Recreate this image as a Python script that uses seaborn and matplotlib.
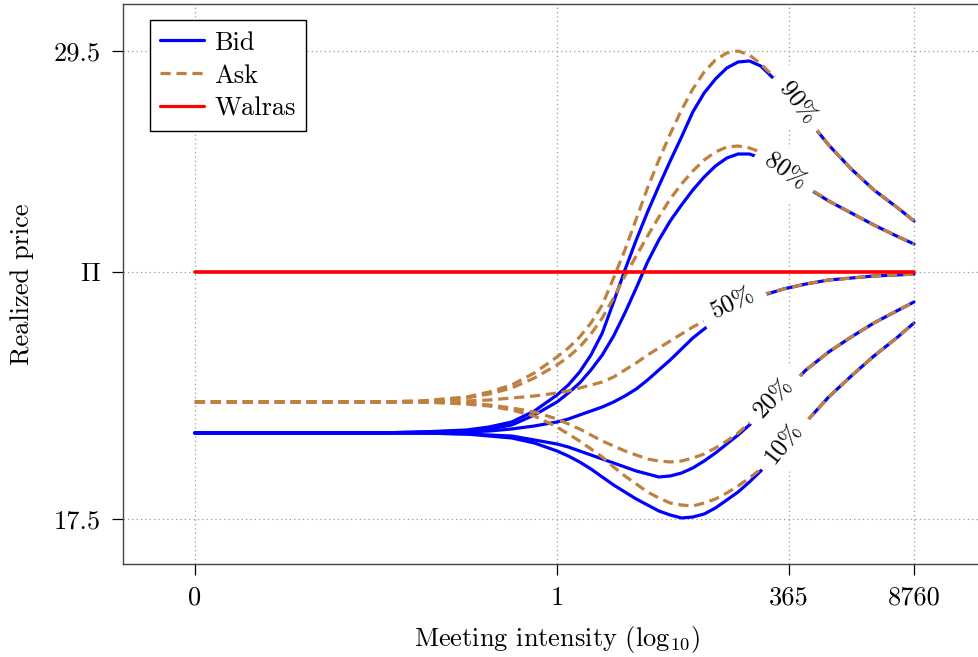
import numpy as np
import pandas as pd
import matplotlib
matplotlib.use("Agg")
import matplotlib.pyplot as plt
from matplotlib.lines import Line2D
import seaborn as sns

# Meeting intensity on a log10 axis; the left end (-4) stands for zero intensity
log_intensity = [-4, -3, -2, -1.5, -1, -0.75, -0.5, -0.25, 0, 0.125, 0.25, 0.375, 0.5,
                 0.625, 0.75, 0.875, 1, 1.125, 1.25, 1.375, 1.5, 1.625, 1.75, 1.875, 2,
                 2.125, 2.25, 2.5, 2.75, 3, 3.25, 3.5, 3.75, 3.9425]

tick_positions = [-4, 0, np.log10(365), np.log10(8760)]
tick_labels = ["0", "1", "365", "8760"]

walras_price = 23.83
price_ticks = [17.5, walras_price, 29.5]
price_tick_labels = ["17.5", r"$\Pi$", "29.5"]

levels = ["90%", "80%", "50%", "20%", "10%"]

bid_90 = [19.705, 19.705, 19.705, 19.731, 19.782, 19.859, 19.987, 20.269, 20.679, 20.936,
          21.269, 21.705, 22.269, 23.064, 23.885, 24.654, 25.372, 26.038, 26.679, 27.295,
          27.936, 28.423, 28.782, 29.064, 29.218, 29.244, 29.115, 28.551, 27.808, 27.090,
          26.474, 25.936, 25.500, 25.141]
ask_90 = [20.500, 20.500, 20.500, 20.526, 20.628, 20.756, 20.936, 21.244, 21.654, 21.885,
          22.167, 22.526, 22.987, 23.679, 24.397, 25.192, 25.987, 26.705, 27.372, 27.987,
          28.526, 28.962, 29.269, 29.449, 29.500, 29.397, 29.167, 28.603, 27.833, 27.090,
          26.474, 25.936, 25.500, 25.141]

bid_80 = [19.705, 19.705, 19.705, 19.731, 19.756, 19.808, 19.910, 20.167, 20.500, 20.731,
          20.987, 21.321, 21.705, 22.192, 22.782, 23.423, 24.090, 24.654, 25.141, 25.551,
          25.936, 26.269, 26.551, 26.756, 26.859, 26.859, 26.756, 26.372, 26.013, 25.654,
          25.346, 25.038, 24.756, 24.551]
ask_80 = [20.500, 20.500, 20.500, 20.526, 20.603, 20.705, 20.859, 21.115, 21.449, 21.654,
          21.910, 22.244, 22.654, 23.167, 23.731, 24.244, 24.756, 25.244, 25.705, 26.090,
          26.423, 26.705, 26.910, 27.038, 27.064, 27.013, 26.910, 26.397, 26.038, 25.654,
          25.346, 25.038, 24.756, 24.551]

bid_50 = [19.705, 19.705, 19.705, 19.705, 19.731, 19.756, 19.808, 19.885, 19.987, 20.064,
          20.167, 20.269, 20.372, 20.500, 20.654, 20.833, 21.064, 21.321, 21.577, 21.859,
          22.141, 22.372, 22.577, 22.782, 22.962, 23.115, 23.218, 23.397, 23.526, 23.628,
          23.679, 23.731, 23.756, 23.782]
ask_50 = [20.500, 20.500, 20.500, 20.500, 20.526, 20.551, 20.603, 20.654, 20.731, 20.782,
          20.859, 20.936, 21.013, 21.141, 21.321, 21.500, 21.705, 21.885, 22.064, 22.244,
          22.423, 22.577, 22.731, 22.885, 23.013, 23.141, 23.244, 23.397, 23.526, 23.628,
          23.679, 23.731, 23.756, 23.782]

bid_20 = [19.705, 19.705, 19.705, 19.705, 19.679, 19.654, 19.628, 19.526, 19.423, 19.346,
          19.244, 19.141, 19.038, 18.936, 18.833, 18.731, 18.654, 18.577, 18.603, 18.679,
          18.808, 18.987, 19.192, 19.423, 19.654, 19.910, 20.192, 20.731, 21.321, 21.782,
          22.167, 22.526, 22.833, 23.064]
ask_20 = [20.500, 20.500, 20.500, 20.500, 20.474, 20.423, 20.346, 20.244, 20.064, 19.936,
          19.808, 19.654, 19.500, 19.372, 19.244, 19.141, 19.038, 18.987, 18.962, 18.987,
          19.064, 19.167, 19.321, 19.500, 19.705, 19.962, 20.218, 20.756, 21.321, 21.782,
          22.167, 22.526, 22.833, 23.064]

bid_10 = [19.705, 19.705, 19.705, 19.705, 19.679, 19.628, 19.577, 19.449, 19.244, 19.115,
          18.962, 18.782, 18.577, 18.372, 18.192, 18.013, 17.859, 17.705, 17.603, 17.526,
          17.551, 17.628, 17.782, 17.987, 18.192, 18.449, 18.731, 19.372, 19.987, 20.628,
          21.167, 21.679, 22.141, 22.526]
ask_10 = [20.500, 20.500, 20.500, 20.500, 20.449, 20.397, 20.295, 20.141, 19.859, 19.679,
          19.500, 19.295, 19.090, 18.833, 18.603, 18.397, 18.192, 18.038, 17.910, 17.859,
          17.833, 17.910, 18.013, 18.167, 18.346, 18.551, 18.782, 19.372, 19.987, 20.628,
          21.167, 21.679, 22.141, 22.526]

bids = {"90%": bid_90, "80%": bid_80, "50%": bid_50, "20%": bid_20, "10%": bid_10}
asks = {"90%": ask_90, "80%": ask_80, "50%": ask_50, "20%": ask_20, "10%": ask_10}

# inline curve labels: (log intensity, price, rotation)
label_spots = {"90%": (2.65, 28.17, -52), "80%": (2.52, 26.40, -35),
               "50%": (1.94, 23.04, 26), "20%": (2.39, 20.60, 47),
               "10%": (2.50, 19.45, 52)}

frames = []
for lv in levels:
    frames.append(pd.DataFrame({"x": log_intensity, "price": bids[lv], "level": lv, "side": "Bid"}))
    frames.append(pd.DataFrame({"x": log_intensity, "price": asks[lv], "level": lv, "side": "Ask"}))
curves = pd.concat(frames, ignore_index=True)
walras = pd.DataFrame({"x": [log_intensity[0], log_intensity[-1]],
                       "price": [walras_price, walras_price]})

sns.set_style("ticks")
plt.rcParams.update({
    "font.family": "serif",
    "font.serif": ["cmr10"],
    "mathtext.fontset": "cm",
    "axes.unicode_minus": False,
    "axes.formatter.use_mathtext": True,
    "text.color": "black",
    "axes.labelcolor": "black",
    "xtick.color": "black",
    "ytick.color": "black",
})

BID_C = "#0000ff"
ASK_C = "#bf8040"
WAL_C = "#ff0000"
LW = 2.3
DASH = (0, (3.2, 1.8))

fig = plt.figure(figsize=(9.79, 6.57), dpi=100)
ax = fig.add_axes([123 / 979, 93 / 657, 868 / 979, 560 / 657])

for lv in levels:
    sub = curves[(curves.level == lv) & (curves.side == "Bid")]
    sns.lineplot(data=sub, x="x", y="price", ax=ax, color=BID_C, lw=LW,
                 estimator=None, sort=False, legend=False, zorder=3,
                 solid_joinstyle="round")
for lv in levels:
    sub = curves[(curves.level == lv) & (curves.side == "Ask")]
    sns.lineplot(data=sub, x="x", y="price", ax=ax, color=ASK_C, lw=LW,
                 linestyle=DASH, estimator=None, sort=False, legend=False, zorder=4)
sns.lineplot(data=walras, x="x", y="price", ax=ax, color=WAL_C, lw=2.6,
             estimator=None, sort=False, legend=False, zorder=7)

for lv in levels:
    lx, ly, rot = label_spots[lv]
    ax.text(lx, ly, lv, fontsize=18, rotation=rot, rotation_mode="anchor",
            ha="center", va="center", zorder=6,
            bbox=dict(boxstyle="square,pad=0.45", fc="white", ec="none"))

ax.set_xlim(-4.793, 4.793)
ax.set_ylim(16.346, 30.705)
ax.set_xticks(tick_positions)
ax.set_xticklabels(tick_labels)
ax.set_yticks(price_ticks)
ax.set_yticklabels(price_tick_labels)
ax.grid(True, color="#9a9a9a", linestyle=(0, (1, 2.5)), linewidth=0.9)
ax.tick_params(axis="both", direction="out", length=8, width=0.9,
               labelsize=19, pad=8)
for sp in ax.spines.values():
    sp.set_color("#444444")
    sp.set_linewidth(1.0)

ax.set_xlabel(r"Meeting intensity (log$_{10}$)", fontsize=19, labelpad=10)
ax.set_ylabel("Realized price", fontsize=19, labelpad=14)

handles = [Line2D([], [], color=BID_C, lw=LW),
           Line2D([], [], color=ASK_C, lw=LW, linestyle=DASH),
           Line2D([], [], color=WAL_C, lw=LW)]
leg = ax.legend(handles, ["Bid", "Ask", "Walras"], loc="upper left",
                bbox_to_anchor=(0.031, 0.971), borderaxespad=0, fontsize=19,
                frameon=True, fancybox=False, framealpha=1, edgecolor="black",
                handlelength=1.65, handletextpad=0.4, labelspacing=0.35,
                borderpad=0.4)
leg.get_frame().set_linewidth(1.0)

fig.savefig("out.png", dpi=100)
